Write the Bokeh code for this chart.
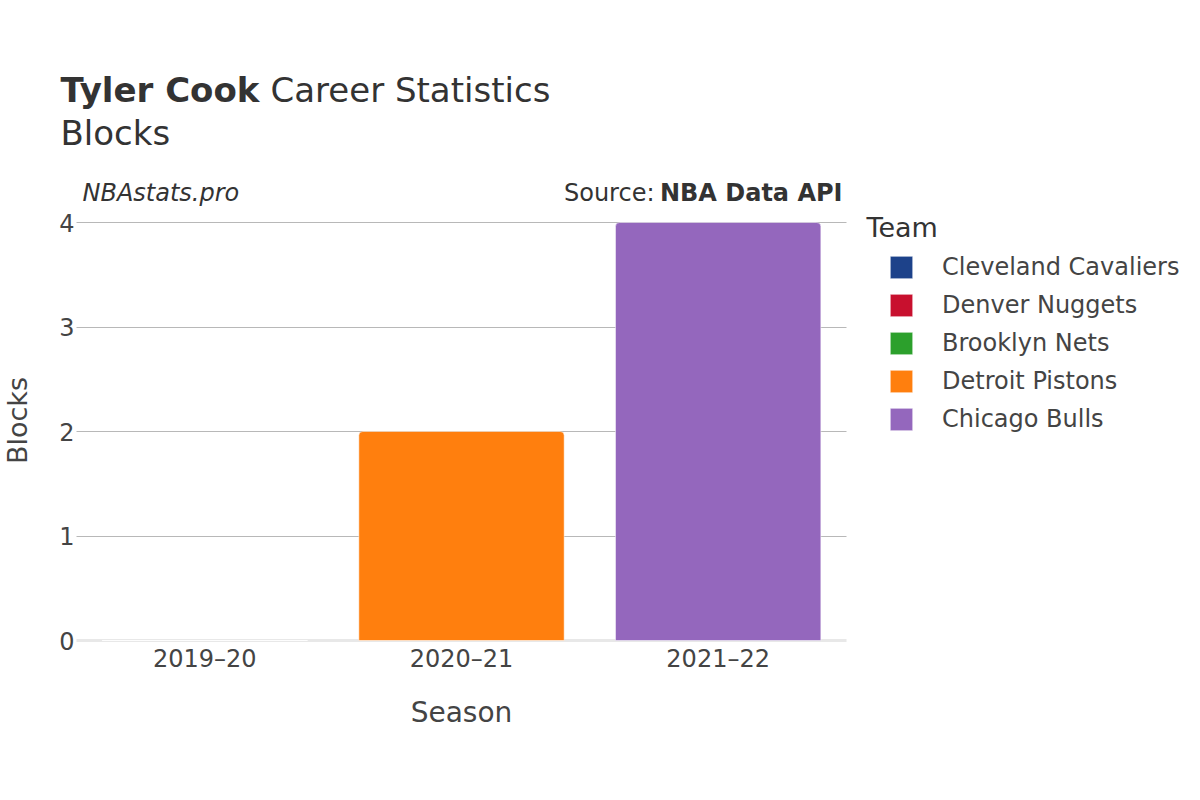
import math
from bokeh.plotting import figure
from bokeh.models import Range1d, Label, Legend, LegendItem, LinearAxis, FixedTicker, Grid
from bokeh.embed import file_html
from bokeh.resources import INLINE

seasons = ["2019–20", "2020–21", "2021–22"]
teams = ["Cleveland Cavaliers", "Denver Nuggets", "Brooklyn Nets", "Detroit Pistons", "Chicago Bulls"]
team_colors = ["#1d428a", "#c8102e", "#2ca02c", "#ff7f0e", "#9467bd"]
bar_seasons = ["2019–20", "2019–20", "2020–21", "2020–21", "2021–22"]
bar_teams = ["Cleveland Cavaliers", "Denver Nuggets", "Brooklyn Nets", "Detroit Pistons", "Chicago Bulls"]
bar_blocks = [0, 0, 0, 2, 4]
y_ticks = [0, 1, 2, 3, 4]

FONT = "DejaVu Sans"
TXT = "#444444"
DARK = "#333333"

# canvas / chart-area layout (pixels)
W, H = 1184, 784
AL, AR, AT, AB = 76, 846, 222, 640       # chart area: left, right, y of top tick, y of zero
n = len(seasons)
xpx = (AR - AL) / n
ypx = (AB - AT) / max(y_ticks)
x0 = -0.5 - AL / xpx
x1 = n - 0.5 + (W - AR) / xpx
y0 = -(H - AB) / ypx
y1 = max(y_ticks) + AT / ypx

p = figure(x_range=Range1d(x0, x1), y_range=Range1d(y0, y1),
           width=W, height=H, output_backend="svg", toolbar_location=None,
           x_axis_location=None, y_axis_location=None,
           min_border=0, min_border_left=0, min_border_right=0, min_border_top=0, min_border_bottom=0)
p.outline_line_color = None
p.background_fill_color = "white"
p.border_fill_color = "white"
p.xgrid.visible = False
p.ygrid.visible = False

# axes through the chart area
yax = LinearAxis(ticker=FixedTicker(ticks=y_ticks), fixed_location=-0.5)
yax.axis_line_color = None
yax.major_tick_line_color = None
yax.minor_tick_line_color = None
yax.major_label_text_font = FONT
yax.major_label_text_font_size = "24px"
yax.major_label_text_color = TXT
yax.major_label_standoff = -4
p.add_layout(yax, "left")

xax = LinearAxis(ticker=FixedTicker(ticks=list(range(n))), fixed_location=0,
                 major_label_overrides={i: s for i, s in enumerate(seasons)})
xax.axis_line_color = None
xax.major_tick_line_color = None
xax.minor_tick_line_color = None
xax.major_label_text_font = FONT
xax.major_label_text_font_size = "24px"
xax.major_label_text_color = TXT
xax.major_label_standoff = -2
p.add_layout(xax, "below")

has_cb = "cross_bounds" in Grid.properties()
grid = Grid(dimension=1, ticker=FixedTicker(ticks=y_ticks[1:]), grid_line_color="#b8b8b8", grid_line_width=1)
zgrid = Grid(dimension=1, ticker=FixedTicker(ticks=[0]), grid_line_color="#e8e8e8", grid_line_width=3)
if has_cb:
    grid.cross_bounds = (-0.5, n - 0.5)
    zgrid.cross_bounds = (-0.5, n - 0.5)
    p.add_layout(grid)
    p.add_layout(zgrid)
else:
    p.segment(x0=[-0.5] * (len(y_ticks) - 1), x1=[n - 0.5] * (len(y_ticks) - 1),
              y0=y_ticks[1:], y1=y_ticks[1:], line_color="#b8b8b8", line_width=1)
    p.segment(x0=[-0.5], x1=[n - 0.5], y0=[0], y1=[0], line_color="#e8e8e8", line_width=3)

# stacked bars
bottoms, tops = [], []
acc = {s: 0 for s in seasons}
for s, v in zip(bar_seasons, bar_blocks):
    bottoms.append(acc[s])
    acc[s] += v
    tops.append(acc[s])

items = []
for t, c in zip(teams, team_colors):
    idx = [i for i, bt in enumerate(bar_teams) if bt == t]
    r = p.vbar(x=[seasons.index(bar_seasons[i]) for i in idx], bottom=[bottoms[i] for i in idx],
               top=[tops[i] for i in idx], width=0.8, fill_color=c,
               line_color="white", line_width=0.5, border_radius=(4, 4, 0, 0))
    items.append(LegendItem(label=t, renderers=[r]))

legend = Legend(items=items, location=(887, H - 433), glyph_width=28, glyph_height=28,
                label_height=28, spacing=10, label_standoff=27, padding=0, margin=0,
                border_line_color=None, background_fill_alpha=0,
                label_text_font=FONT, label_text_font_size="24px", label_text_color=TXT)
p.add_layout(legend, "center")

def lab(px, py, text, size, style="normal", align="left", color=TXT, angle=0.0):
    p.add_layout(Label(x=px, y=H - py, x_units="screen", y_units="screen", text=text,
                       text_font=FONT, text_font_size=size, text_font_style=style,
                       text_align=align, text_baseline="middle", text_color=color, angle=angle))

lab(60, 89, "Tyler Cook", "34px", "bold", color=DARK)
lab(270, 89, "Career Statistics", "34px", color=DARK)
lab(60, 132, "Blocks", "34px", color=DARK)
lab(82, 192, "NBAstats.pro", "24px", "italic", color=DARK)
lab(842, 192, "NBA Data API", "24px", "bold", align="right", color=DARK)
lab(654, 192, "Source:", "24px", align="right", color=DARK)
lab(17, 420, "Blocks", "27px", align="center", angle=math.pi / 2)
lab(461, 712, "Season", "28px", align="center")
lab(866, 227, "Team", "27px", color=DARK)

open("out.html", "w").write(file_html(p, INLINE))
